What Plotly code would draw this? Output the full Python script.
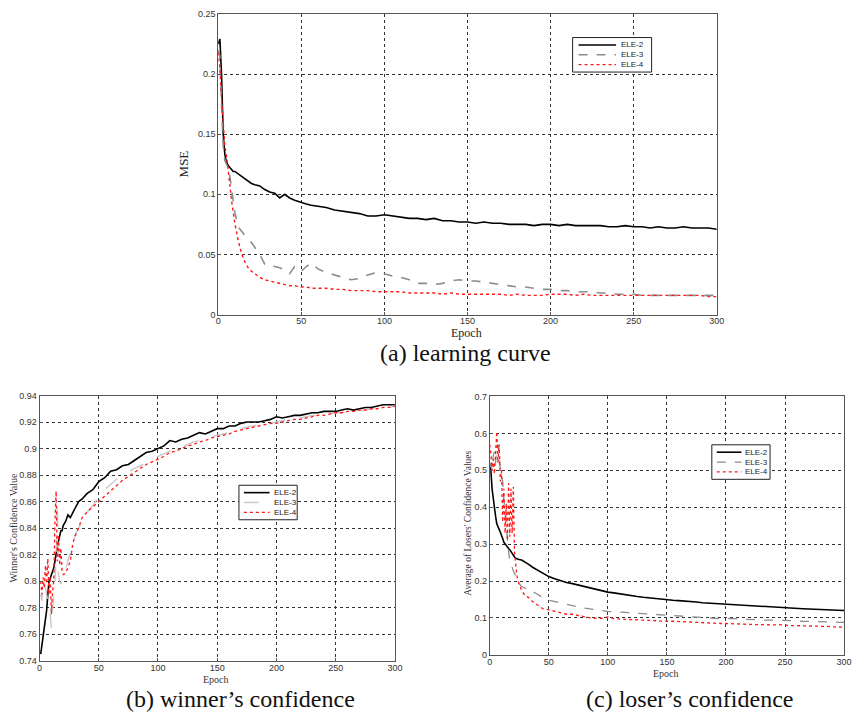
import plotly.graph_objects as go

# ---------------- (a) learning curve ----------------
epoch_a = [0,1,2,3,4,5,6,7,8,9,10,12,14,16,18,20,22,25,28,31,34,37,40,43,46,50,53,56] + list(range(60, 301, 5))
mse_ele2 = [0.225,0.229,0.200,0.150,0.133,0.127,0.124,0.122,0.121,0.119,0.119,
            0.117,0.115,0.113,0.111,0.109,0.108,
            0.107,0.104,0.102,0.101,0.097,0.100,0.097,0.095,
            0.093,0.092,0.091,
            0.090,0.089,0.087,0.086,0.085,0.084,0.082,0.082,0.083,0.082,0.081,0.080,0.080,0.079,0.080,0.078,0.078,0.077,0.077,0.076,0.077,0.076,0.076,0.075,0.075,0.075,0.074,0.075,0.075,0.074,0.075,0.074,0.074,0.074,0.074,0.073,0.073,0.074,0.073,0.073,0.072,0.073,0.072,0.072,0.073,0.072,0.072,0.072,0.071]
mse_ele3 = [0.220,0.215,0.175,0.140,0.128,0.125,0.122,0.115,0.105,0.095,0.085,
            0.073,0.069,0.066,0.063,0.060,0.056,
            0.050,0.042,0.042,0.040,0.039,0.037,0.034,0.040,
            0.036,0.040,0.043,
            0.038,0.035,0.033,0.031,0.029,0.030,0.033,0.035,0.034,0.032,0.031,0.029,0.026,0.026,0.025,0.026,0.028,0.029,0.028,0.028,0.027,0.026,0.025,0.024,0.023,0.023,0.022,0.021,0.021,0.020,0.020,0.019,0.019,0.019,0.018,0.018,0.017,0.017,0.017,0.016,0.016,0.016,0.016,0.016,0.016,0.016,0.016,0.016,0.016]
mse_ele4 = [0.218,0.205,0.180,0.155,0.140,0.132,0.122,0.108,0.095,0.085,0.076,
            0.062,0.051,0.044,0.039,0.036,0.034,
            0.031,0.029,0.028,0.027,0.026,0.025,0.024,0.024,
            0.023,0.023,0.022,
            0.022,0.022,0.021,0.021,0.020,0.020,0.020,0.019,0.019,0.019,0.019,0.018,0.018,0.018,0.018,0.017,0.018,0.017,0.017,0.017,0.017,0.017,0.017,0.016,0.017,0.016,0.016,0.016,0.017,0.017,0.017,0.016,0.017,0.016,0.016,0.016,0.016,0.016,0.016,0.016,0.016,0.016,0.016,0.016,0.016,0.016,0.016,0.015,0.015]

# ---------------- (b) winner's confidence ----------------
epoch_b = list(range(1, 21)) + [22,24,26,28,30,33,36] + list(range(40, 301, 5))
win_ele2 = [0.745,0.752,0.760,0.763,0.770,0.778,0.790,0.800,0.802,0.805,0.808,0.810,0.815,0.822,0.826,0.830,0.835,0.838,0.838,0.842,
            0.845,0.850,0.848,0.852,0.855,0.860,0.862,
            0.866,0.869,0.875,0.878,0.883,0.884,0.887,0.888,0.891,0.894,0.897,0.898,0.900,0.902,0.906,0.905,0.907,0.908,0.910,0.912,0.911,0.913,0.915,0.915,0.917,0.917,0.919,0.920,0.920,0.920,0.921,0.922,0.924,0.923,0.924,0.925,0.925,0.926,0.927,0.927,0.928,0.928,0.928,0.929,0.930,0.929,0.930,0.931,0.931,0.932,0.933,0.933,0.933]
win_ele3 = [0.790,0.785,0.800,0.797,0.795,0.790,0.785,0.780,0.775,0.765,0.780,0.790,0.800,0.815,0.860,0.805,0.800,0.798,0.800,0.803,
            0.808,0.815,0.822,0.828,0.835,0.840,0.846,
            0.852,0.857,0.864,0.869,0.873,0.877,0.880,0.882,0.885,0.887,0.889,0.892,0.894,0.896,0.898,0.900,0.901,0.903,0.905,0.906,0.907,0.909,0.910,0.911,0.912,0.914,0.915,0.916,0.917,0.918,0.919,0.919,0.920,0.921,0.922,0.922,0.923,0.924,0.925,0.925,0.926,0.926,0.927,0.927,0.928,0.928,0.929,0.929,0.930,0.930,0.931,0.931,0.932]
win_ele4 = [0.800,0.790,0.803,0.795,0.812,0.798,0.817,0.790,0.803,0.775,0.792,0.800,0.845,0.868,0.815,0.835,0.812,0.825,0.808,0.805,
            0.806,0.810,0.815,0.828,0.834,0.840,0.848,
            0.852,0.856,0.860,0.864,0.868,0.872,0.876,0.879,0.882,0.885,0.888,0.890,0.892,0.894,0.897,0.898,0.900,0.902,0.903,0.905,0.906,0.908,0.909,0.910,0.911,0.913,0.914,0.915,0.916,0.917,0.918,0.919,0.919,0.920,0.921,0.922,0.922,0.923,0.924,0.925,0.925,0.926,0.927,0.927,0.928,0.928,0.929,0.929,0.930,0.930,0.931,0.931,0.932]

# ---------------- (c) loser's confidence ----------------
epoch_c = list(range(0, 25)) + [27,30,33,36] + list(range(40, 301, 5))
los_ele2 = [0.510,0.500,0.450,0.420,0.395,0.375,0.355,0.345,0.340,0.332,0.325,0.315,0.305,0.300,0.295,0.292,0.288,0.285,0.280,0.272,0.268,0.265,0.262,0.260,0.259,
            0.257,0.252,0.245,0.238,
            0.230,0.222,0.212,0.206,0.200,0.196,0.193,0.189,0.185,0.181,0.177,0.174,0.170,0.168,0.165,0.162,0.160,0.158,0.156,0.154,0.152,0.151,0.149,0.148,0.147,0.146,0.144,0.143,0.141,0.140,0.139,0.138,0.136,0.135,0.134,0.133,0.132,0.131,0.131,0.130,0.129,0.128,0.127,0.127,0.126,0.125,0.124,0.123,0.122,0.122,0.121,0.120,0.120]
los_ele3 = [0.510,0.520,0.505,0.540,0.550,0.520,0.560,0.570,0.540,0.500,0.490,0.470,0.420,0.380,0.340,0.310,0.280,0.255,0.245,0.235,0.228,0.222,0.215,0.205,0.197,
            0.185,0.180,0.182,0.172,
            0.165,0.155,0.148,0.144,0.140,0.136,0.133,0.130,0.127,0.124,0.122,0.120,0.118,0.117,0.115,0.114,0.113,0.112,0.110,0.109,0.108,0.107,0.106,0.105,0.104,0.103,0.102,0.101,0.100,0.100,0.099,0.098,0.098,0.099,0.097,0.096,0.096,0.095,0.095,0.094,0.094,0.093,0.093,0.092,0.092,0.091,0.091,0.090,0.090,0.089,0.089,0.088,0.088]
los_ele4 = [0.570,0.545,0.500,0.530,0.490,0.560,0.605,0.520,0.570,0.470,0.500,0.360,0.450,0.330,0.410,0.310,0.465,0.320,0.450,0.330,0.455,0.280,0.240,0.215,0.200,
            0.175,0.160,0.155,0.145,
            0.135,0.125,0.122,0.118,0.113,0.110,0.110,0.106,0.102,0.100,0.099,0.099,0.103,0.098,0.097,0.096,0.095,0.095,0.094,0.093,0.093,0.092,0.091,0.091,0.090,0.090,0.089,0.088,0.088,0.087,0.086,0.085,0.085,0.084,0.083,0.083,0.083,0.082,0.082,0.081,0.081,0.082,0.080,0.079,0.079,0.079,0.078,0.078,0.077,0.077,0.076,0.076,0.075]

series_names = ["ELE-2", "ELE-3", "ELE-4"]

x_ticks = [0, 50, 100, 150, 200, 250, 300]
ya_ticks = [0, 0.05, 0.1, 0.15, 0.2, 0.25]
ya_text = ["0", "0.05", "0.1", "0.15", "0.2", "0.25"]
yb_ticks = [0.74, 0.76, 0.78, 0.8, 0.82, 0.84, 0.86, 0.88, 0.9, 0.92, 0.94]
yb_text = ["0.74", "0.76", "0.78", "0.8", "0.82", "0.84", "0.86", "0.88", "0.9", "0.92", "0.94"]
yc_ticks = [0, 0.1, 0.2, 0.3, 0.4, 0.5, 0.6, 0.7]
yc_text = ["0", "0.1", "0.2", "0.3", "0.4", "0.5", "0.6", "0.7"]

W, H = 860, 720
def px_x(p):
    return p / W
def px_y(p):
    return 1 - p / H
def dx(px0, px1):
    return [px0 / W, px1 / W]
def dy(py0, py1):  # top pixel, bottom pixel
    return [1 - py1 / H, 1 - py0 / H]

fig = go.Figure()

styles_a = [dict(color="#000000", width=1.6, dash="solid"),
            dict(color="#8c8c8c", width=1.6, dash="dash"),
            dict(color="#ff1a1a", width=1.4, dash="dot")]
styles_b = [dict(color="#000000", width=1.6, dash="solid"),
            dict(color="#c8c8c8", width=1.4, dash="longdash"),
            dict(color="#ff1a1a", width=1.3, dash="dot")]
styles_c = [dict(color="#000000", width=1.6, dash="solid"),
            dict(color="#8c8c8c", width=1.3, dash="dash"),
            dict(color="#ff1a1a", width=1.3, dash="dot")]

for name, ys, st in zip(series_names, [mse_ele2, mse_ele3, mse_ele4], styles_a):
    fig.add_trace(go.Scatter(x=epoch_a, y=ys, mode="lines", name=name, line=st,
                             xaxis="x", yaxis="y", showlegend=False))
for name, ys, st in zip(series_names, [win_ele2, win_ele3, win_ele4], styles_b):
    fig.add_trace(go.Scatter(x=epoch_b, y=ys, mode="lines", name=name, line=st,
                             xaxis="x2", yaxis="y2", showlegend=False))
for name, ys, st in zip(series_names, [los_ele2, los_ele3, los_ele4], styles_c):
    fig.add_trace(go.Scatter(x=epoch_c, y=ys, mode="lines", name=name, line=st,
                             xaxis="x3", yaxis="y3", showlegend=False))

tickfont = dict(family="Liberation Sans, Arial", size=9, color="#333333")
common_axis = dict(showline=True, linecolor="#555555", linewidth=1, mirror=True,
                   showgrid=True, gridcolor="#333333", griddash="3px,3px", gridwidth=1,
                   ticks="inside", ticklen=3, tickcolor="#555555", zeroline=False,
                   tickfont=tickfont)

fig.update_layout(
    width=W, height=H, margin=dict(l=0, r=0, t=0, b=0),
    paper_bgcolor="white", plot_bgcolor="white",
    showlegend=False,
    xaxis=dict(domain=dx(218, 723), range=[0, 300], tickvals=x_ticks, anchor="y", ticklabelstandoff=-2, **common_axis),
    yaxis=dict(domain=dy(9, 314), range=[0, 0.25], tickvals=ya_ticks, ticktext=ya_text, anchor="x", **common_axis),
    xaxis2=dict(domain=dx(37, 397), range=[0, 300], tickvals=x_ticks, anchor="y2", ticklabelstandoff=-2, **common_axis),
    yaxis2=dict(domain=dy(396, 665), range=[0.74, 0.94], tickvals=yb_ticks, ticktext=yb_text, anchor="x2", **common_axis),
    xaxis3=dict(domain=dx(493, 852), range=[0, 300], tickvals=x_ticks, anchor="y3", ticklabelstandoff=-2, **common_axis),
    yaxis3=dict(domain=dy(397, 659), range=[0, 0.7], tickvals=yc_ticks, ticktext=yc_text, anchor="x3", **common_axis),
)

# ---- compact legend boxes (key drawn as paper-space decoration) ----
legend_specs = [
    dict(box=(577, 33, 657, 68), lx0=583, lx1=621, tx=625, ys=[40.5, 50.5, 60.5], styles=styles_a),
    dict(box=(239, 487, 298, 522), lx0=244, lx1=270, tx=273, ys=[494.5, 504.5, 514.5], styles=styles_b),
    dict(box=(718, 446, 777, 481), lx0=723, lx1=748, tx=751, ys=[453.5, 463.5, 473.5], styles=styles_c),
]
shapes = []
annos = []
for spec in legend_specs:
    bx0, by0, bx1, by1 = spec["box"]
    shapes.append(dict(type="rect", xref="paper", yref="paper",
                       x0=px_x(bx0), x1=px_x(bx1), y0=px_y(by1), y1=px_y(by0),
                       fillcolor="white", line=dict(color="#222222", width=1), layer="above"))
    for name, yy, st in zip(series_names, spec["ys"], spec["styles"]):
        shapes.append(dict(type="line", xref="paper", yref="paper",
                           x0=px_x(spec["lx0"]), x1=px_x(spec["lx1"]), y0=px_y(yy), y1=px_y(yy),
                           line=dict(color=st["color"], width=st["width"], dash=st["dash"]), layer="above"))
        annos.append(dict(text=name, x=px_x(spec["tx"]), y=px_y(yy), xanchor="left", yanchor="middle",
                          borderpad=0,
                          font=dict(family="Liberation Sans, Arial", size=8, color="#222222")))

serif = "Liberation Serif, Times New Roman, serif"
labels = [
    dict(text="MSE", x=183, y=161, textangle=-90, size=13, color="#222"),
    dict(text="Epoch", x=470, y=333, size=12, color="#222"),
    dict(text="(a) learning curve", x=468, y=353, size=24, color="#111"),
    dict(text="Winner's Confidence Value", x=11, y=530, textangle=-90, size=10, color="#333"),
    dict(text="Epoch", x=216, y=684, size=10, color="#333"),
    dict(text="(b) winner’s confidence", x=241, y=704, size=24, color="#111"),
    dict(text="Average of Losers' Confidence Values", x=471, y=525, textangle=-90, size=9.5, color="#333"),
    dict(text="Epoch", x=672, y=678, size=10, color="#333"),
    dict(text="(c) loser’s confidence", x=695, y=704, size=24, color="#111"),
]
for lb in labels:
    annos.append(dict(text=lb["text"], x=px_x(lb["x"]), y=px_y(lb["y"]),
                      textangle=lb.get("textangle", 0), xanchor="center", yanchor="middle",
                      font=dict(family=serif, size=lb["size"], color=lb["color"])))
for a in annos:
    a.update(xref="paper", yref="paper", showarrow=False)

fig.update_layout(shapes=shapes, annotations=annos)

fig.write_html("out.html",
               config={"displayModeBar": False},
               post_script="document.body.style.margin='0px';document.body.style.overflow='hidden';")
